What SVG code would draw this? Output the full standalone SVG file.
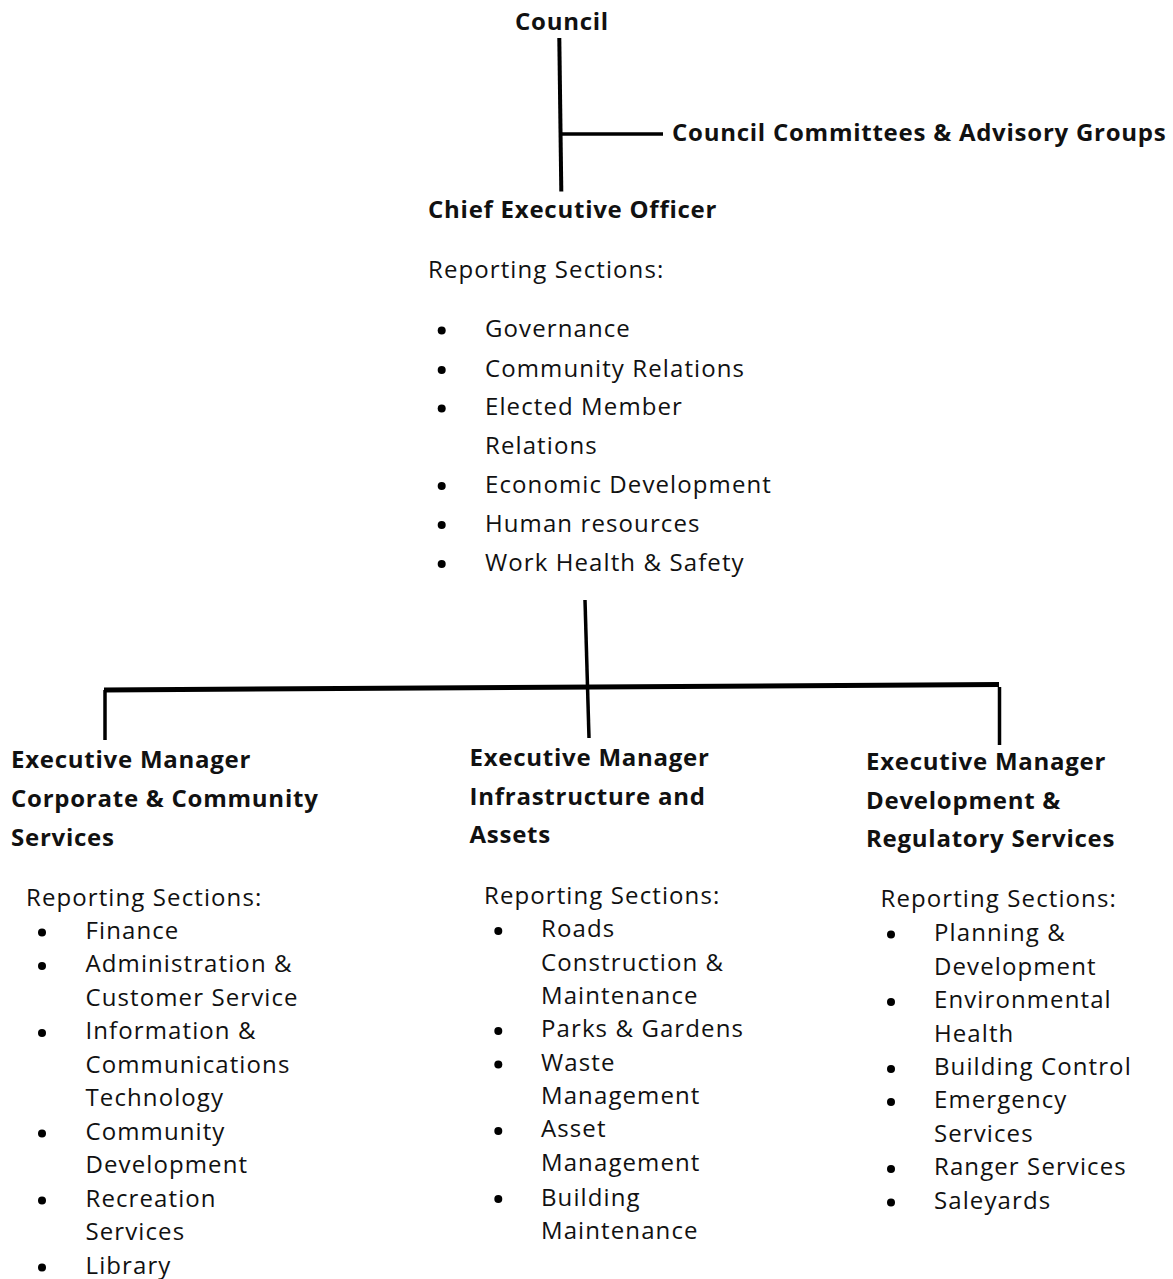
<svg xmlns="http://www.w3.org/2000/svg" width="1173" height="1279" viewBox="0 0 1173 1279">
<style>
.b{font-family:"Open Sans","Noto Sans",sans-serif;font-weight:700;font-size:24px;letter-spacing:0.75px;fill:#111}
.r{font-family:"Open Sans","Noto Sans",sans-serif;font-weight:400;font-size:24px;letter-spacing:1.1px;fill:#111}
.ln{stroke:#000;fill:none;stroke-linecap:butt}
.dot{fill:#000}
</style>
<rect width="1173" height="1279" fill="#fff"/>
<g id="connectors">
<line class="ln" x1="559.3" y1="38" x2="561.3" y2="191.5" stroke-width="4"/>
<line class="ln" x1="561" y1="134" x2="663" y2="134" stroke-width="3.5"/>
<line class="ln" x1="585" y1="600" x2="589" y2="738" stroke-width="3.5"/>
<line class="ln" x1="104" y1="690" x2="999" y2="684.5" stroke-width="5"/>
<line class="ln" x1="105" y1="690" x2="105" y2="740" stroke-width="3.5"/>
<line class="ln" x1="999.5" y1="687" x2="999.5" y2="745" stroke-width="3.5"/>
</g>
<g id="council"><text class="b" x="515" y="30">Council</text></g>
<g id="committees"><text class="b" x="672" y="141">Council Committees &amp; Advisory Groups</text></g>
<g id="ceo">
<text class="b" x="428" y="218">Chief Executive Officer</text>
<text class="r" x="428" y="278">Reporting Sections:</text>
<circle class="dot" cx="441.7" cy="330.5" r="4"/><text class="r" x="485" y="337">Governance</text>
<circle class="dot" cx="441.7" cy="370" r="4"/><text class="r" x="485" y="376.5">Community Relations</text>
<circle class="dot" cx="441.7" cy="408.5" r="4"/><text class="r" x="485" y="415">Elected Member</text>
<text class="r" x="485" y="454">Relations</text>
<circle class="dot" cx="441.7" cy="486" r="4"/><text class="r" x="485" y="492.5">Economic Development</text>
<circle class="dot" cx="441.7" cy="525" r="4"/><text class="r" x="485" y="531.5">Human resources</text>
<circle class="dot" cx="441.7" cy="564" r="4"/><text class="r" x="485" y="570.5">Work Health &amp; Safety</text>
</g>
<g id="em-corporate">
<text class="b" x="11" y="767.5">Executive Manager</text>
<text class="b" x="11" y="806.5">Corporate &amp; Community</text>
<text class="b" x="11" y="845.5">Services</text>
<text class="r" x="26" y="905.5">Reporting Sections:</text>
<circle class="dot" cx="42" cy="932.5" r="4"/><text class="r" x="85.5" y="938.5">Finance</text>
<circle class="dot" cx="42" cy="966" r="4"/><text class="r" x="85.5" y="972">Administration &amp;</text>
<text class="r" x="85.5" y="1005.5">Customer Service</text>
<circle class="dot" cx="42" cy="1033" r="4"/><text class="r" x="85.5" y="1039">Information &amp;</text>
<text class="r" x="85.5" y="1072.5">Communications</text>
<text class="r" x="85.5" y="1106">Technology</text>
<circle class="dot" cx="42" cy="1133.5" r="4"/><text class="r" x="85.5" y="1139.5">Community</text>
<text class="r" x="85.5" y="1173">Development</text>
<circle class="dot" cx="42" cy="1200.5" r="4"/><text class="r" x="85.5" y="1206.5">Recreation</text>
<text class="r" x="85.5" y="1240">Services</text>
<circle class="dot" cx="42" cy="1267.5" r="4"/><text class="r" x="85.5" y="1273.5">Library</text>
</g>
<g id="em-infrastructure">
<text class="b" x="469.5" y="765.5">Executive Manager</text>
<text class="b" x="469.5" y="804.5">Infrastructure and</text>
<text class="b" x="469.5" y="843">Assets</text>
<text class="r" x="484" y="904">Reporting Sections:</text>
<circle class="dot" cx="498.3" cy="931" r="4"/><text class="r" x="541" y="937.3">Roads</text>
<text class="r" x="541" y="970.7">Construction &amp;</text>
<text class="r" x="541" y="1004">Maintenance</text>
<circle class="dot" cx="498.3" cy="1031" r="4"/><text class="r" x="541" y="1037.3">Parks &amp; Gardens</text>
<circle class="dot" cx="498.3" cy="1064.5" r="4"/><text class="r" x="541" y="1070.7">Waste</text>
<text class="r" x="541" y="1104">Management</text>
<circle class="dot" cx="498.3" cy="1131" r="4"/><text class="r" x="541" y="1137.3">Asset</text>
<text class="r" x="541" y="1170.7">Management</text>
<circle class="dot" cx="498.3" cy="1199" r="4"/><text class="r" x="541" y="1205.5">Building</text>
<text class="r" x="541" y="1239">Maintenance</text>
</g>
<g id="em-development">
<text class="b" x="866" y="770">Executive Manager</text>
<text class="b" x="866" y="808.5">Development &amp;</text>
<text class="b" x="866" y="847">Regulatory Services</text>
<text class="r" x="880.5" y="906.5">Reporting Sections:</text>
<circle class="dot" cx="891" cy="934.5" r="4"/><text class="r" x="934" y="940.7">Planning &amp;</text>
<text class="r" x="934" y="974.5">Development</text>
<circle class="dot" cx="891" cy="1002" r="4"/><text class="r" x="934" y="1008.3">Environmental</text>
<text class="r" x="934" y="1041.7">Health</text>
<circle class="dot" cx="891" cy="1069" r="4"/><text class="r" x="934" y="1075">Building Control</text>
<circle class="dot" cx="891" cy="1102" r="4"/><text class="r" x="934" y="1108.3">Emergency</text>
<text class="r" x="934" y="1141.7">Services</text>
<circle class="dot" cx="891" cy="1169" r="4"/><text class="r" x="934" y="1175">Ranger Services</text>
<circle class="dot" cx="891" cy="1202.5" r="4"/><text class="r" x="934" y="1209">Saleyards</text>
</g>
</svg>
